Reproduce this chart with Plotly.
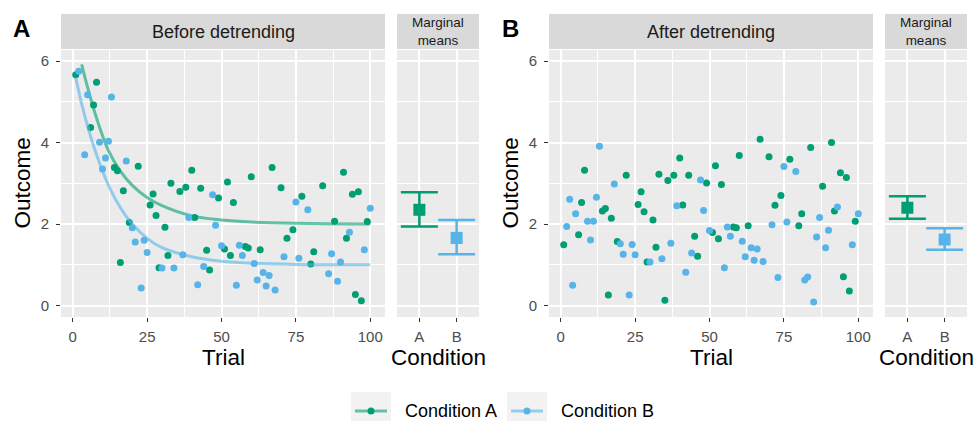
import plotly.graph_objects as go

W, H = 974, 421

# ---------------- data ----------------
trials_A = [1, 6, 7, 8, 14, 15, 16, 17, 19, 22, 26, 27, 28, 29, 31, 32, 33, 35, 36, 38,
            40, 41, 43, 45, 46, 49, 51, 52, 53, 54, 58, 59, 60, 63, 67, 70, 72, 74, 77, 80,
            81, 84, 88, 91, 92, 94, 95, 96, 97, 99]
before_A = [5.66, 4.37, 4.92, 5.48, 3.39, 3.31, 1.06, 2.82, 2.04, 3.42, 2.47, 2.74, 2.21, 0.93, 1.92, 1.23, 3.00, None, 2.80, 2.90,
            3.32, 2.16, 2.88, 1.36, 0.87, 2.64, 1.39, 3.03, 1.23, 2.53, 1.45, 1.41, 3.16, 1.37, 3.39, 2.89, 1.65, 1.86, 2.68, 1.02,
            1.32, 2.94, 2.07, 3.27, 1.65, 2.73, 0.27, 2.79, 0.12, 2.06]
after_A = [1.49, 1.74, 2.53, 3.32, 2.32, 2.38, 0.26, 2.14, 1.57, 3.20, 2.48, 2.79, 2.30, 1.07, 2.10, 1.43, 3.22, 0.13, 3.07, 3.20,
           3.62, 2.47, 3.20, 1.70, 1.21, 3.01, 1.79, 3.43, 1.64, 2.97, 1.93, 1.91, 3.68, 1.96, 4.08, 3.65, 2.46, 2.70, 3.59, 1.96,
           2.25, 3.88, 2.93, 4.00, 2.32, 3.26, 0.71, 3.14, 0.36, 2.07]

trials_B = [2, 3, 4, 5, 9, 10, 11, 12, 13, 18, 20, 21, 23, 24, 25, 30, 34, 37, 39, 42,
            44, 47, 48, 50, 55, 56, 57, 61, 62, 64, 65, 66, 68, 71, 73, 75, 76, 79, 82, 83,
            85, 86, 87, 89, 90, 93, 98, 100]
before_B = [5.75, None, 3.70, 5.17, 4.01, 3.35, 3.62, 4.03, 5.12, 3.55, 1.91, 1.56, 0.43, 1.60, 1.30, 0.92, 0.92, 1.25, 2.16, 0.51,
            0.96, 2.72, 1.97, 1.47, 0.50, 1.48, 1.23, 1.03, 0.63, 0.81, 0.48, 0.74, 0.38, 1.20, None, 2.54, 1.16, 2.35, None, None,
            None, 0.78, 1.27, 0.60, 1.07, 1.80, 1.37, 2.39]
after_B = [1.94, 2.61, 0.50, 2.25, 2.07, 1.61, 2.07, 2.66, 3.91, 2.98, 1.52, 1.26, 0.26, 1.50, 1.25, 1.07, 1.15, 1.53, 2.45, 0.82,
           1.29, 3.08, 2.33, 1.84, 0.93, 1.93, 1.70, 1.58, 1.20, 1.42, 1.11, 1.39, 1.08, 1.98, 0.69, 3.41, 2.05, 3.29, 0.63, 0.70,
           0.09, 1.68, 2.16, 1.42, 1.85, 2.42, 1.49, 2.25]

curve_trials_A = [3, 5, 8, 12, 16, 20, 25, 30, 40, 50, 60, 75, 100]
curve_A = [5.92, 5.35, 4.60, 3.80, 3.30, 2.95, 2.65, 2.45, 2.20, 2.10, 2.05, 2.02, 2.00]
curve_trials_B = [1, 3, 5, 8, 12, 16, 20, 25, 30, 40, 50, 60, 75, 100]
curve_B = [5.60, 4.95, 4.40, 3.70, 2.95, 2.40, 2.00, 1.65, 1.42, 1.20, 1.09, 1.04, 1.01, 1.00]

conditions = ["A", "B"]
mm_before_mean = [2.35, 1.66]
mm_before_lo = [1.94, 1.26]
mm_before_hi = [2.78, 2.10]
mm_after_mean = [2.40, 1.62]
mm_after_lo = [2.13, 1.37]
mm_after_hi = [2.68, 1.90]

x_ticks = [0, 25, 50, 75, 100]
x_minor = [12.5, 37.5, 62.5, 87.5]
y_ticks = [0, 2, 4, 6]
y_minor = [1, 3, 5]

GREEN = "#009E73"
BLUE = "#56B4E9"
GREEN_LINE = "rgba(0,158,115,0.6)"
BLUE_LINE = "rgba(86,180,233,0.6)"
FONT = "Liberation Sans, Arial, Helvetica, sans-serif"


def px(x):
    return x / W


def py(y):
    return 1 - y / H


# panel pixel boxes (left, right)
PANEL_TOP, PANEL_BOT = 50, 317
STRIP_TOP, STRIP_BOT = 14, 49
panels = {
    "main1": (61, 385),
    "mm1": (397, 479),
    "main2": (549, 873),
    "mm2": (885, 967),
}

fig = go.Figure()


def add_main(xa, ya, before):
    for trials, vals, curve_t, curve_v, col, lcol in (
        (trials_A, before_A if before else after_A, curve_trials_A, curve_A, GREEN, GREEN_LINE),
        (trials_B, before_B if before else after_B, curve_trials_B, curve_B, BLUE, BLUE_LINE),
    ):
        fig.add_trace(go.Scatter(x=trials, y=vals, mode="markers", xaxis=xa, yaxis=ya,
                                 marker=dict(size=7, color=col), showlegend=False,
                                 hoverinfo="x+y"))
        if before:
            fig.add_trace(go.Scatter(x=curve_t, y=curve_v, mode="lines", xaxis=xa, yaxis=ya,
                                     line=dict(color=lcol, width=3, shape="spline", smoothing=1.0),
                                     showlegend=False, hoverinfo="skip"))


def add_mm(xa, ya, mean, lo, hi):
    cols = [GREEN, BLUE]
    for i, c in enumerate(conditions):
        fig.add_trace(go.Scatter(
            x=[c], y=[mean[i]], mode="markers", xaxis=xa, yaxis=ya,
            marker=dict(symbol="square", size=12, color=cols[i]),
            error_y=dict(type="data", symmetric=False, array=[hi[i] - mean[i]],
                         arrayminus=[mean[i] - lo[i]], width=18.5, thickness=2.5, color=cols[i]),
            showlegend=False))


add_main("x", "y", True)
add_mm("x2", "y2", mm_before_mean, mm_before_lo, mm_before_hi)
add_main("x3", "y3", False)
add_mm("x4", "y4", mm_after_mean, mm_after_lo, mm_after_hi)

ydom = [py(PANEL_BOT), py(PANEL_TOP)]
tickfont = dict(family=FONT, size=15, color="#4D4D4D")
common_grid = dict(showgrid=True, gridcolor="white", gridwidth=2, zeroline=False, showline=False)


def main_x(name, anchor):
    l, r = panels[name]
    return dict(domain=[px(l), px(r)], anchor=anchor, range=[-3.95, 104.95],
                tickmode="array", tickvals=x_ticks, ticks="outside", ticklen=4,
                tickcolor="#333333", tickwidth=1.2, tickfont=tickfont, ticklabelstandoff=2,
                minor=dict(tickvals=x_minor, showgrid=True, gridcolor="white", gridwidth=1, ticks=""),
                fixedrange=True, **common_grid)


def mm_x(name, anchor):
    l, r = panels[name]
    return dict(domain=[px(l), px(r)], anchor=anchor, type="category",
                categoryorder="array", categoryarray=conditions, range=[-0.6, 1.6],
                ticks="outside", ticklen=4, tickcolor="#333333", tickwidth=1.2,
                tickfont=tickfont, ticklabelstandoff=2, fixedrange=True, **common_grid)


def y_ax(anchor, labels):
    return dict(domain=ydom, anchor=anchor, range=[-0.28, 6.27], tickmode="array",
                tickvals=y_ticks, ticks="outside" if labels else "", ticklen=4,
                tickcolor="#333333", tickwidth=1.2, showticklabels=labels, tickfont=tickfont,
                ticklabelstandoff=4,
                minor=dict(tickvals=y_minor, showgrid=True, gridcolor="white", gridwidth=1, ticks=""),
                fixedrange=True, **common_grid)


shapes = []
annotations = []

# facet strips
strip_texts = {"main1": ("Before detrending", 18), "mm1": ("Marginal<br>means", 13.5),
               "main2": ("After detrending", 18), "mm2": ("Marginal<br>means", 13.5)}
for name, (l, r) in panels.items():
    shapes.append(dict(type="rect", xref="paper", yref="paper", x0=px(l), x1=px(r),
                       y0=py(STRIP_BOT), y1=py(STRIP_TOP), fillcolor="#D9D9D9", line=dict(width=0),
                       layer="below"))
    txt, sz = strip_texts[name]
    annotations.append(dict(text=txt, x=px((l + r) / 2), y=py((STRIP_TOP + STRIP_BOT) / 2),
                            xref="paper", yref="paper", showarrow=False, xanchor="center",
                            yanchor="middle", font=dict(family=FONT, size=sz, color="#1A1A1A")))

# axis titles
title_font = dict(family=FONT, size=22.5, color="black")
for name, txt in (("main1", "Trial"), ("mm1", "Condition"), ("main2", "Trial"), ("mm2", "Condition")):
    l, r = panels[name]
    annotations.append(dict(text=txt, x=px((l + r) / 2), y=py(357), xref="paper", yref="paper",
                            showarrow=False, xanchor="center", yanchor="middle", font=title_font))
for xc in (22, 510):
    annotations.append(dict(text="Outcome", x=px(xc), y=py((PANEL_TOP + PANEL_BOT) / 2),
                            xref="paper", yref="paper", showarrow=False, textangle=-90,
                            xanchor="center", yanchor="middle", font=title_font))

# panel tags
for xc, tag in ((21, "A"), (510, "B")):
    annotations.append(dict(text="<b>%s</b>" % tag, x=px(xc), y=py(28), xref="paper", yref="paper",
                            showarrow=False, xanchor="center", yanchor="middle",
                            font=dict(family=FONT, size=24, color="black")))

# legend (drawn as keys + labels)
legend_items = [("Condition A", GREEN, GREEN_LINE, 351, 402.7), ("Condition B", BLUE, BLUE_LINE, 507, 559.3)]
LEG_Y = 411
for label, col, lcol, kx, tx in legend_items:
    shapes.append(dict(type="rect", xref="paper", yref="paper", x0=px(kx), x1=px(kx + 40),
                       y0=py(431), y1=py(392), fillcolor="#F2F2F2", line=dict(width=0)))
    shapes.append(dict(type="line", xref="paper", yref="paper", x0=px(kx + 4), x1=px(kx + 36),
                       y0=py(LEG_Y), y1=py(LEG_Y), line=dict(color=lcol, width=3)))
    shapes.append(dict(type="circle", xref="paper", yref="paper", x0=px(kx + 20 - 3.5),
                       x1=px(kx + 20 + 3.5), y0=py(LEG_Y + 3.5), y1=py(LEG_Y - 3.5),
                       fillcolor=col, line=dict(width=0)))
    annotations.append(dict(text=label, x=px(tx), y=py(LEG_Y), xref="paper", yref="paper",
                            showarrow=False, xanchor="left", yanchor="middle",
                            font=dict(family=FONT, size=18, color="black")))

fig.update_layout(
    width=W, height=H, margin=dict(l=0, r=0, t=0, b=0),
    paper_bgcolor="white", plot_bgcolor="#EBEBEB",
    font=dict(family=FONT),
    showlegend=False,
    xaxis=main_x("main1", "y"), yaxis=y_ax("x", True),
    xaxis2=mm_x("mm1", "y2"), yaxis2=y_ax("x2", False),
    xaxis3=main_x("main2", "y3"), yaxis3=y_ax("x3", True),
    xaxis4=mm_x("mm2", "y4"), yaxis4=y_ax("x4", False),
    shapes=shapes, annotations=annotations,
)

fig.write_html(
    "out.html",
    config={"displayModeBar": False},
    post_script="document.body.style.margin='0';document.body.style.padding='0';"
                "document.body.style.overflow='hidden';",
)
